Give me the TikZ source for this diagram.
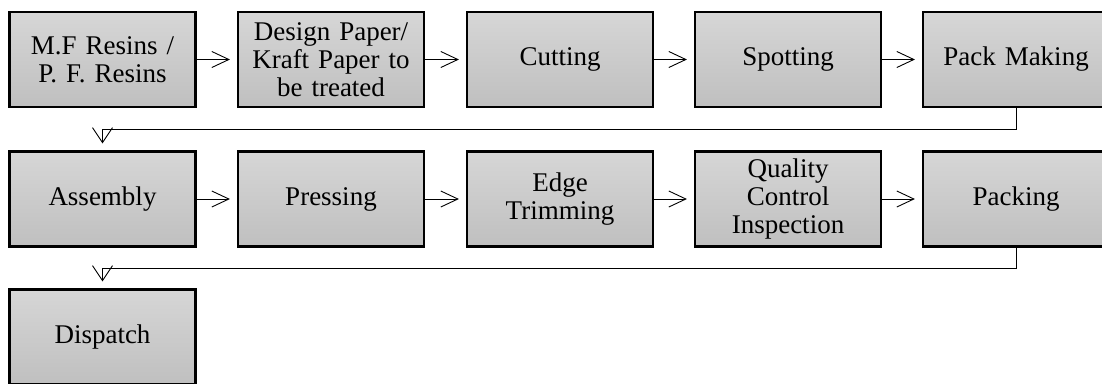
\documentclass[tikz,border=0pt]{standalone}
\usepackage{fontspec}
\setmainfont{Liberation Serif}
\usetikzlibrary{arrows.meta,positioning}
\tikzset{
  stepbox/.style={draw=black, line width=2.2pt, top color=black!16, bottom color=black!25,
    minimum width=185pt, minimum height=95pt, inner sep=2pt, align=center,
    font=\fontsize{27}{28}\selectfont, text width=182pt},
  conn/.style={line width=0.9pt, -{Straight Barb[length=17pt,width=16pt,line width=0.9pt]}, shorten >=7pt},
  connd/.style={line width=0.9pt, -{Straight Barb[length=15pt,width=20pt,line width=0.9pt]}, shorten >=7pt}
}
\begin{document}
\begin{tikzpicture}[x=1pt,y=-1pt]
\useasboundingbox (0,0) rectangle (1102,383);
\clip (0,0) rectangle (1102,383);
\node[stepbox] (m1) at (102.5,59.5) {M.F Resins /\\P. F. Resins};
\node[stepbox] (m2) at (331,59.5) {Design Paper/\\Kraft Paper to\\be treated};
\node[stepbox] (m3) at (560,59.5) {Cutting};
\node[stepbox] (m4) at (788,59.5) {Spotting};
\node[stepbox] (m5) at (1016,59.5) {Pack Making};
\node[stepbox] (a1) at (102.5,199) {Assembly};
\node[stepbox] (a2) at (331,199) {Pressing};
\node[stepbox] (a3) at (560,199) {Edge\\Trimming};
\node[stepbox] (a4) at (788,199) {Quality\\Control\\Inspection};
\node[stepbox] (a5) at (1016,199) {Packing};
\node[stepbox] (d1) at (102.5,337) {Dispatch};
\draw[conn] (m1) -- (m2);
\draw[conn] (m2) -- (m3);
\draw[conn] (m3) -- (m4);
\draw[conn] (m4) -- (m5);
\draw[conn] (a1) -- (a2);
\draw[conn] (a2) -- (a3);
\draw[conn] (a3) -- (a4);
\draw[conn] (a4) -- (a5);
\draw[connd] (m5.south) -- ++(0,21) -| (a1.north);
\draw[connd] (a5.south) -- ++(0,21) -| (d1.north);
\end{tikzpicture}
\end{document}
